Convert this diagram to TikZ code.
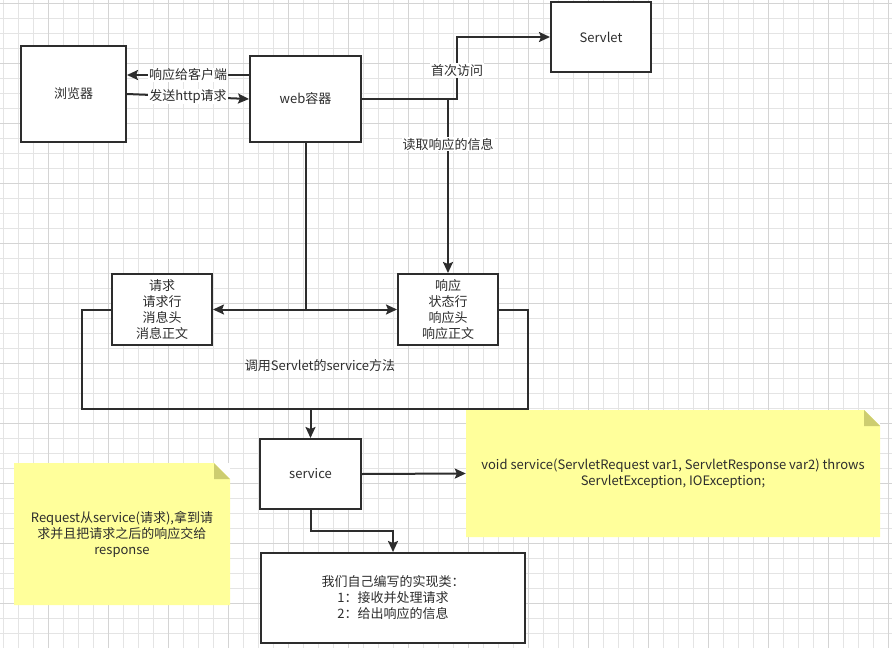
\documentclass[tikz,border=0pt]{standalone}
\usepackage{fontspec}
\setmainfont{Noto Sans CJK SC}
\usepackage{tikz}
\usetikzlibrary{arrows.meta,positioning,calc}

\definecolor{ink}{RGB}{45,45,45}
\definecolor{notebg}{RGB}{255,255,155}
\definecolor{notefold}{RGB}{205,205,112}
\definecolor{gridminor}{RGB}{228,228,228}
\definecolor{gridmajor}{RGB}{212,212,212}

\tikzset{
  box/.style={draw=ink, line width=2pt, fill=white, text=ink, align=center, inner sep=0pt},
  wire/.style={draw=ink, line width=2pt},
  arr/.style={wire, -{Stealth[length=11pt,width=10pt,inset=2pt]}},
  lbl/.style={fill=white, text=ink, inner sep=1pt},
  note/.style={fill=white, text=ink, align=center, inner sep=0pt,
    path picture={
      \fill[notebg] (path picture bounding box.south west) -- (path picture bounding box.north west)
        -- ([xshift=-16pt]path picture bounding box.north east) -- ([yshift=-16pt]path picture bounding box.north east)
        -- (path picture bounding box.south east) -- cycle;
      \fill[notefold] ([xshift=-16pt]path picture bounding box.north east)
        -- ([xshift=-16pt,yshift=-16pt]path picture bounding box.north east)
        -- ([yshift=-16pt]path picture bounding box.north east) -- cycle;
    }},
}

\begin{document}
\begin{tikzpicture}[x=1pt, y=-1pt, every node/.style={font=\fontsize{13}{16}\selectfont}]
\useasboundingbox (0,0) rectangle (892,648);

% grid
\foreach \gx in {3,18,...,888} \draw[gridminor, line width=1pt] (\gx,0) -- (\gx,648);
\foreach \gy in {3,18,...,645} \draw[gridminor, line width=1pt] (0,\gy) -- (892,\gy);
\foreach \gx in {48,108,...,888} \draw[gridmajor, line width=1pt] (\gx,0) -- (\gx,648);
\foreach \gy in {3,63,...,645} \draw[gridmajor, line width=1pt] (0,\gy) -- (892,\gy);

\node[box, minimum width=105pt, minimum height=96pt](BR) at (73.5,94){浏览器};
\node[box, minimum width=111pt, minimum height=86pt](WEB) at (305.5,99){web容器};
\node[box, minimum width=100pt, minimum height=70pt](SV) at (601,37){Servlet};

\node[box, minimum width=100pt, minimum height=71pt](REQ) at (162,309.5){请求\\请求行\\消息头\\消息正文};
\node[box, minimum width=100pt, minimum height=71pt, right of=REQ, node distance=286pt](RSP){响应\\状态行\\响应头\\响应正文};

\node[text=ink](CALL) at (320,366){调用Servlet的service方法};

\node[box, minimum width=101pt, minimum height=70pt](SRV) at (310.5,474){service};
\node[box, minimum width=264pt, minimum height=90pt](IMPL) at (393,598){我们自己编写的实现类：\\1：接收并处理请求\\2：给出响应的信息};

\node[note, minimum width=216pt, minimum height=142pt](N1) at (122,534){Request从service(请求),拿到请\\求并且把请求之后的响应交给\\response};
\node[note, minimum width=414pt, minimum height=127pt](N2) at (673,473.5){void service(ServletRequest var1, ServletResponse var2) throws\\ServletException, IOException;};

% browser <-> container
\draw[arr] ([yshift=24pt]WEB.west) coordinate (W1) -- (W1 -| BR.east) node[midway, lbl]{响应给客户端};
\draw[arr] (BR.east) -- (WEB.west) node[midway, lbl]{发送http请求};

% container -> servlet / response
\coordinate (TURN) at (457,99);
\draw[arr] (WEB.east) -- (TURN) |- (SV.west) node[pos=0.23, lbl]{首次访问};
\draw[arr] (WEB.east) -| (RSP.north) node[pos=0.63, lbl]{读取响应的信息};

\coordinate (HUB) at (WEB.south |- REQ.east);
\draw[wire] (WEB.south) -- (HUB);
\draw[arr] (HUB) -- (REQ.east);
\draw[arr] (HUB) -- (RSP.west);

% both go into service
\coordinate (BL) at (82,409);
\coordinate (BRT) at (528,409);
\draw[wire] (REQ.west) -| (BL) -- (BRT) |- (RSP.east);
\draw[arr] (SRV.north |- BL) -- (SRV.north);

\draw[arr] (SRV.east) -- (N2.west);
\coordinate (MID) at ($(SRV.south)!.5!(IMPL.north)$);
\draw[arr] (SRV.south) |- (MID) -| (IMPL.north);
\end{tikzpicture}
\end{document}
